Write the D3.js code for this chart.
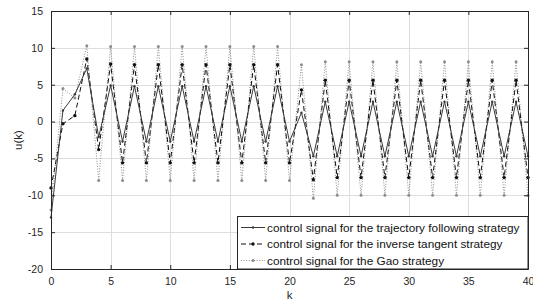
<!DOCTYPE html>
<html>
<head>
  <meta charset="utf-8">
  <script src="https://d3js.org/d3.v7.min.js"></script>
  <style>
    body { margin: 0; background: #fff; }
    svg { font-family: "Liberation Sans", Arial, sans-serif; }
    .line { fill: none; }
  </style>
</head>
<body>
  <svg width="533" height="303"></svg>
  <script>
    const ks = d3.range(0, 41);

    const trajectory = [-13, 1.5, 3.7, 7.2, -2.1, 4.9, -2.7, 4.8, -2.7, 4.8,
      -2.7, 4.8, -2.7, 4.8, -2.7, 4.8, -2.7, 4.8, -2.7, 4.8,
      -2.7, 1.2, -4.7, 2.7, -4.7, 2.7, -4.7, 2.7, -4.7, 2.7,
      -4.7, 2.7, -4.7, 2.7, -4.7, 2.7, -4.7, 2.7, -4.7, 2.7, -4.7];

    const inverseTangent = [-9.0, -0.3, 0.8, 8.5, -3.8, 7.8, -5.6, 7.7, -5.6, 7.7,
      -5.6, 7.7, -5.6, 7.7, -5.6, 7.7, -5.6, 7.7, -5.6, 7.7,
      -5.6, 4.3, -7.9, 5.6, -7.6, 5.6, -7.6, 5.6, -7.6, 5.6,
      -7.6, 5.6, -7.6, 5.6, -7.6, 5.6, -7.6, 5.6, -7.6, 5.6, -7.6];

    const gao = [-12.0, 4.5, 3.2, 10.3, -8.0, 10.2, -8.0, 10.2, -8.0, 10.2,
      -8.0, 10.2, -8.0, 10.2, -8.0, 10.2, -8.0, 10.2, -8.0, 10.2,
      -8.0, 7.7, -10.4, 8.1, -10.0, 8.1, -10.0, 8.1, -10.0, 8.1,
      -10.0, 8.1, -10.0, 8.1, -10.0, 8.1, -10.0, 8.1, -10.0, 8.1, -10.0];

    const xTicks = [0, 5, 10, 15, 20, 25, 30, 35, 40];
    const yTicks = [-20, -15, -10, -5, 0, 5, 10, 15];
    const labels = [
      "control signal for the trajectory following strategy",
      "control signal for the inverse tangent strategy",
      "control signal for the Gao strategy"
    ];

    const svg = d3.select("svg");
    const margin = { top: 11, right: 5, bottom: 34, left: 51 };
    const width = +svg.attr("width");
    const height = +svg.attr("height");
    const axisColor = "#262626";

    const x = d3.scaleLinear().domain([0, 40]).range([margin.left, width - margin.right]);
    const y = d3.scaleLinear().domain([-20, 15]).range([height - margin.bottom, margin.top]);

    // grid
    const grid = svg.append("g").attr("stroke", "#dedede").attr("stroke-width", 1);
    grid.selectAll(".gx").data(xTicks.slice(1, -1)).join("line")
      .attr("x1", d => Math.round(x(d)) + 0.5).attr("x2", d => Math.round(x(d)) + 0.5)
      .attr("y1", y(-20)).attr("y2", y(15));
    grid.selectAll(".gy").data(yTicks.slice(1, -1)).join("line")
      .attr("y1", d => Math.round(y(d)) + 0.5).attr("y2", d => Math.round(y(d)) + 0.5)
      .attr("x1", x(0)).attr("x2", x(40));

    // series
    const line = d3.line().x((d, i) => x(ks[i])).y(d => y(d));
    const series = [
      { data: gao, stroke: "#8c8c8c", dash: "1,1.6", r: 1.5, fill: "#8c8c8c", w: 1 },
      { data: inverseTangent, stroke: "#111", dash: "5,3", r: 1.7, fill: "#111", w: 1 },
      { data: trajectory, stroke: "#3a3a3a", dash: null, r: 1.2, fill: "#3a3a3a", w: 1 }
    ];
    series.forEach(s => {
      svg.append("path").datum(s.data).attr("class", "line")
        .attr("stroke", s.stroke).attr("stroke-width", s.w)
        .attr("stroke-dasharray", s.dash).attr("d", line);
      svg.append("g").selectAll("circle").data(s.data).join("circle")
        .attr("cx", (d, i) => x(ks[i])).attr("cy", d => y(d))
        .attr("r", s.r).attr("fill", s.fill);
    });

    // axes (box with inward ticks)
    const fmt = d => String(d);
    svg.append("g").attr("transform", `translate(0,${y(-20)})`)
      .call(d3.axisBottom(x).tickValues(xTicks).tickFormat(fmt).tickSizeInner(-4).tickSizeOuter(0).tickPadding(9));
    svg.append("g").attr("transform", `translate(${x(0)},0)`)
      .call(d3.axisLeft(y).tickValues(yTicks).tickFormat(fmt).tickSizeInner(-4).tickSizeOuter(0).tickPadding(8));
    svg.append("g").attr("transform", `translate(0,${y(15)})`)
      .call(d3.axisTop(x).tickValues(xTicks).tickSizeInner(-4).tickSizeOuter(0).tickFormat(""));
    svg.append("g").attr("transform", `translate(${x(40)},0)`)
      .call(d3.axisRight(y).tickValues(yTicks).tickSizeInner(-4).tickSizeOuter(0).tickFormat(""));
    svg.selectAll(".domain, .tick line").attr("stroke", axisColor);
    svg.selectAll(".tick text").attr("fill", axisColor).style("font-size", "10.5px")
      .style("font-family", "'Liberation Sans', Arial, sans-serif");

    // axis labels
    svg.append("text").attr("x", x(20)).attr("y", 299).attr("text-anchor", "middle")
      .attr("fill", axisColor).style("font-size", "11.5px").text("k");
    svg.append("text").attr("transform", `translate(22,${y(-2.5)}) rotate(-90)`)
      .attr("text-anchor", "middle").attr("fill", axisColor).style("font-size", "11.5px").text("u(k)");

    // legend
    const lg = svg.append("g");
    lg.append("rect").attr("x", 237.5).attr("y", 216.5).attr("width", x(40) - 237.5)
      .attr("height", y(-20) - 216.5).attr("fill", "#fff").attr("stroke", axisColor);
    const legendSeries = [series[2], series[1], series[0]];
    legendSeries.forEach((s, i) => {
      const cy = 227.5 + i * 16.5;
      lg.append("line").attr("x1", 241).attr("x2", 265).attr("y1", cy).attr("y2", cy)
        .attr("stroke", s.stroke).attr("stroke-dasharray", s.dash).attr("stroke-width", s.w);
      lg.append("circle").attr("cx", 253).attr("cy", cy).attr("r", s.r).attr("fill", s.fill);
      lg.append("text").attr("x", 267).attr("y", cy + 4).attr("fill", "#111")
        .style("font-size", "11.8px").text(labels[i]);
    });
  </script>
</body>
</html>
